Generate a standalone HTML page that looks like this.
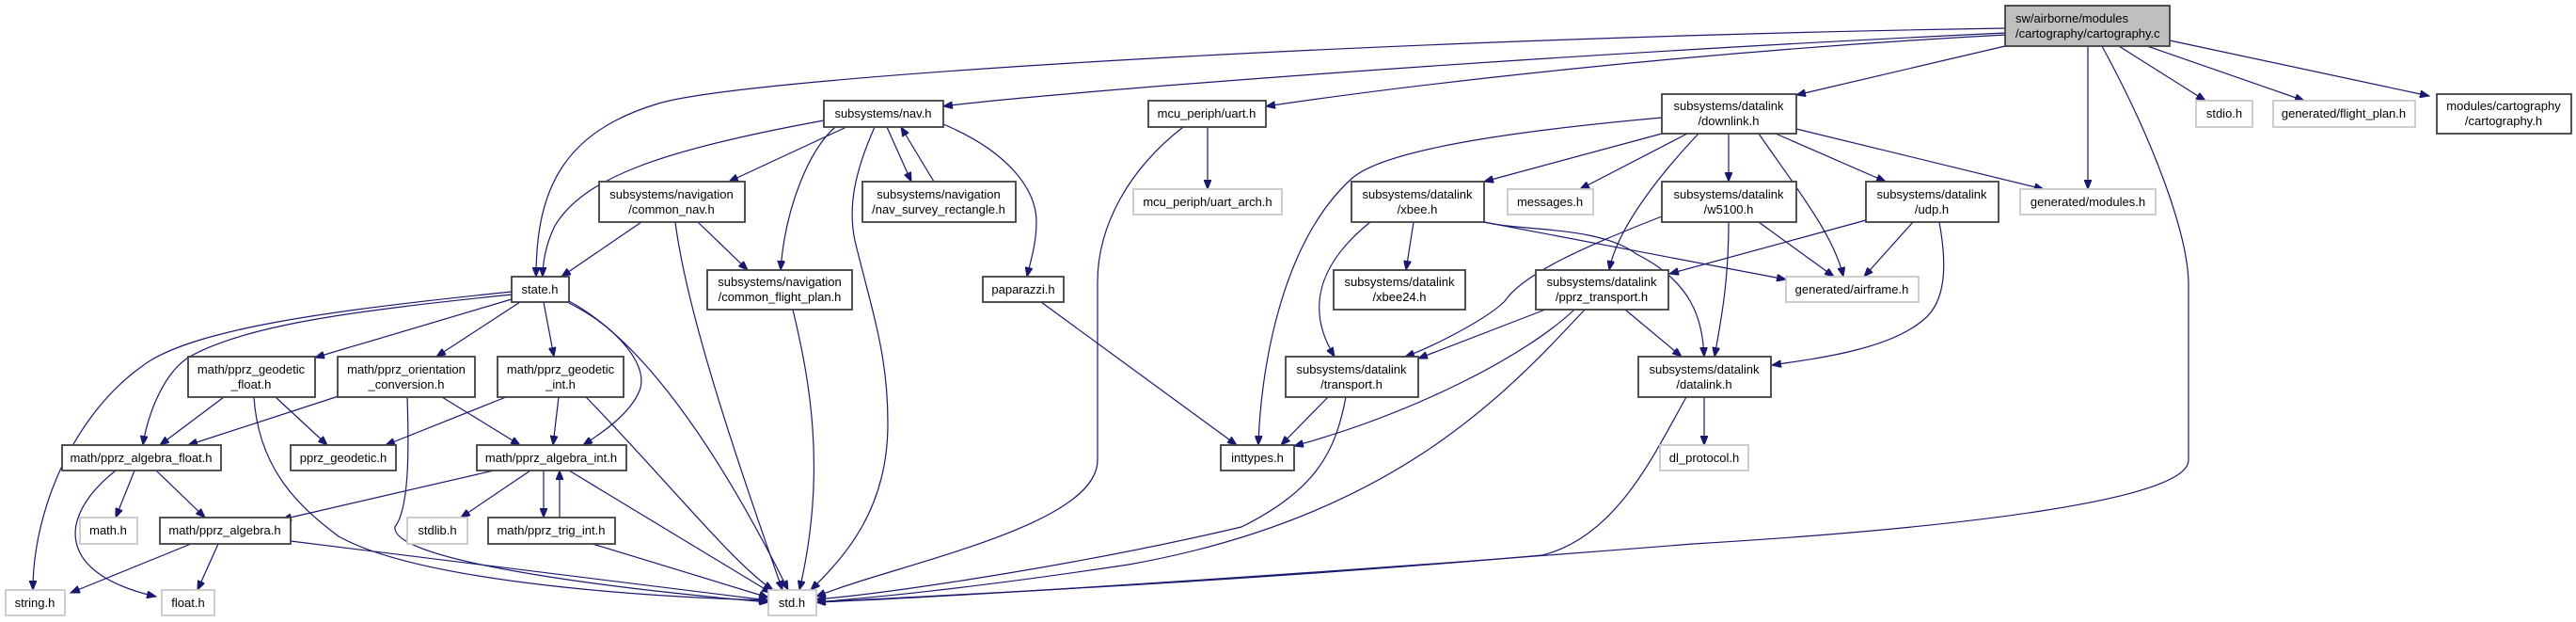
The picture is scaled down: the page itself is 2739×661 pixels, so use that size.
<!DOCTYPE html>
<html><head><meta charset="utf-8"><style>
html,body{margin:0;padding:0;background:#fff;}
svg{display:block;}
text{font-family:"Liberation Sans",Arial,sans-serif;font-size:13px;fill:#000;text-anchor:middle;}
.n{fill:#fff;stroke:#404040;stroke-width:1.8;}
.g{fill:#fff;stroke:#c8c8c8;stroke-width:1.8;}
.r{fill:#bfbfbf;stroke:#404040;stroke-width:1.8;}
path{fill:none;stroke:#191970;stroke-width:1.2;}
</style></head><body>
<svg width="2739" height="661" viewBox="0 0 2739 661" xmlns="http://www.w3.org/2000/svg">
<defs><marker id="a" markerWidth="11" markerHeight="8" refX="10" refY="4" orient="auto" markerUnits="userSpaceOnUse"><path d="M0,0 L10,4 L0,8 Z" style="fill:#191970;stroke:#191970;stroke-width:1"/></marker></defs>
<g marker-end="url(#a)">
<!-- root -->
<path d="M2132,30 C1500,40 800,80 700,110 C600,140 570,200 570,294"/>
<path d="M2132,35 C1600,60 1100,100 1003,113"/>
<path d="M2132,37 C1800,55 1500,90 1346,113"/>
<path d="M2132,49 L1910,101"/>
<path d="M2220,49 L2220,201"/>
<path d="M2253,49 L2345,107"/>
<path d="M2283,49 L2450,107"/>
<path d="M2307,43 L2583,102"/>
<path d="M2235,49 C2290,150 2327,250 2327,303 L2327,489 C2327,530 2100,560 1800,578 C1400,610 1000,635 868,640"/>
<!-- nav -->
<path d="M876,128 C700,160 620,190 590,240 C580,260 577,280 577,294"/>
<path d="M900,135 L775,193"/>
<path d="M888,135 C860,160 835,220 830,287"/>
<path d="M930,135 C910,180 900,220 910,260 C930,340 944,380 944,450 C944,540 900,590 862,627"/>
<path d="M943,135 L969,193"/>
<path d="M993,193 L958,135"/>
<path d="M1003,132 C1070,160 1102,200 1102,236 C1102,260 1095,280 1092,294"/>
<!-- uart -->
<path d="M1284,135 L1284,201"/>
<path d="M1258,135 C1200,180 1167,240 1167,300 L1167,489 C1167,560 950,600 868,634"/>
<!-- downlink -->
<path d="M1767,125 C1600,140 1470,160 1437,190 C1360,260 1340,400 1338,473"/>
<path d="M1767,142 L1578,193"/>
<path d="M1794,142 L1680,201"/>
<path d="M1806,142 C1770,180 1720,240 1711,287"/>
<path d="M1838,142 L1838,193"/>
<path d="M1870,142 C1910,200 1950,250 1960,294"/>
<path d="M1888,142 L2005,193"/>
<path d="M1910,137 L2173,201"/>
<!-- xbee -->
<path d="M1457,236 C1390,290 1395,340 1419,379"/>
<path d="M1503,236 L1495,287"/>
<path d="M1578,236 L1899,297"/>
<path d="M1578,236 C1620,246 1700,240 1740,270 C1800,300 1810,340 1812,379"/>
<!-- w5100 -->
<path d="M1767,230 C1690,260 1620,290 1600,320 C1580,340 1520,370 1494,379"/>
<path d="M1838,236 C1838,300 1830,340 1823,379"/>
<path d="M1870,236 L1950,294"/>
<!-- udp -->
<path d="M1984,234 L1775,291"/>
<path d="M2034,236 L1982,294"/>
<path d="M2062,236 C2070,280 2070,320 2045,340 C2010,370 1940,380 1884,388"/>
<!-- pprz_transport -->
<path d="M1643,329 L1508,381"/>
<path d="M1674,329 C1620,380 1500,440 1376,474"/>
<path d="M1685,329 C1600,420 1480,550 1200,600 C1000,630 900,637 868,640"/>
<path d="M1728,329 L1788,379"/>
<!-- transport -->
<path d="M1412,422 L1362,473"/>
<path d="M1431,422 C1420,480 1400,520 1320,560 C1150,600 950,630 868,637"/>
<!-- datalink -->
<path d="M1812,422 L1812,473"/>
<path d="M1793,422 C1760,480 1720,570 1640,590 C1300,620 950,635 868,640"/>
<!-- paparazzi -->
<path d="M1107,321 L1315,473"/>
<!-- common_nav -->
<path d="M682,236 L597,294"/>
<path d="M742,236 L795,287"/>
<path d="M718,236 C730,330 780,480 832,627"/>
<!-- cfp -->
<path d="M843,329 C860,400 880,500 850,627"/>
<!-- state -->
<path d="M544,310 C350,330 200,350 150,390 C80,440 35,540 35,627"/>
<path d="M544,313 C380,330 260,345 200,380 C170,400 155,450 152,473"/>
<path d="M544,318 L335,380"/>
<path d="M553,321 L464,379"/>
<path d="M578,321 L589,379"/>
<path d="M605,322 C660,350 690,390 680,415 C670,440 640,460 620,473"/>
<path d="M605,320 C680,360 760,470 838,627"/>
<!-- geo_float -->
<path d="M238,422 L170,473"/>
<path d="M293,422 L348,473"/>
<path d="M270,422 C275,500 320,540 360,570 C450,620 700,635 817,638"/>
<!-- orient -->
<path d="M360,421 L200,473"/>
<path d="M470,422 L553,473"/>
<path d="M433,422 C435,480 435,540 420,560 C415,600 700,630 817,640"/>
<!-- geo_int -->
<path d="M538,422 L410,473"/>
<path d="M594,422 L588,473"/>
<path d="M623,422 C700,500 780,600 822,627"/>
<!-- alg_float -->
<path d="M143,500 L123,550"/>
<path d="M166,500 L218,550"/>
<path d="M123,500 C60,550 60,610 166,634"/>
<!-- pprz_algebra -->
<path d="M203,578 L75,630"/>
<path d="M232,578 L210,627"/>
<path d="M309,575 L817,638"/>
<!-- alg_int -->
<path d="M525,500 L300,552"/>
<path d="M564,500 L490,550"/>
<path d="M578,500 L578,550"/>
<path d="M595,550 L595,500"/>
<path d="M605,500 L820,630"/>
<path d="M630,578 L817,635"/>
</g>
<!-- nodes -->
<rect class="r" x="2132" y="6" width="175" height="43"/><text x="2219" y="24" style="text-anchor:start" dx="-76">sw/airborne/modules</text><text x="2219" y="40" style="text-anchor:start" dx="-76">/cartography/cartography.c</text>
<rect class="n" x="876" y="107" width="127" height="28"/><text x="939" y="125">subsystems/nav.h</text>
<rect class="n" x="1221" y="107" width="125" height="28"/><text x="1283" y="125">mcu_periph/uart.h</text>
<rect class="n" x="1767" y="100" width="143" height="42"/><text x="1838" y="117">subsystems/datalink</text><text x="1838" y="133">/downlink.h</text>
<rect class="g" x="2335" y="107" width="60" height="28"/><text x="2365" y="125">stdio.h</text>
<rect class="g" x="2417" y="107" width="151" height="28"/><text x="2492" y="125">generated/flight_plan.h</text>
<rect class="n" x="2591" y="100" width="143" height="42"/><text x="2662" y="117">modules/cartography</text><text x="2662" y="133">/cartography.h</text>
<rect class="n" x="637" y="193" width="155" height="43"/><text x="714" y="211">subsystems/navigation</text><text x="714" y="227">/common_nav.h</text>
<rect class="n" x="917" y="193" width="163" height="43"/><text x="998" y="211">subsystems/navigation</text><text x="998" y="227">/nav_survey_rectangle.h</text>
<rect class="g" x="1205" y="201" width="158" height="27"/><text x="1284" y="219">mcu_periph/uart_arch.h</text>
<rect class="n" x="1437" y="193" width="141" height="43"/><text x="1507" y="211">subsystems/datalink</text><text x="1507" y="227">/xbee.h</text>
<rect class="g" x="1603" y="201" width="91" height="27"/><text x="1648" y="219">messages.h</text>
<rect class="n" x="1767" y="193" width="143" height="43"/><text x="1838" y="211">subsystems/datalink</text><text x="1838" y="227">/w5100.h</text>
<rect class="n" x="1984" y="193" width="141" height="43"/><text x="2054" y="211">subsystems/datalink</text><text x="2054" y="227">/udp.h</text>
<rect class="g" x="2148" y="201" width="144" height="27"/><text x="2220" y="219">generated/modules.h</text>
<rect class="n" x="544" y="294" width="61" height="27"/><text x="574" y="312">state.h</text>
<rect class="n" x="752" y="287" width="154" height="42"/><text x="829" y="304">subsystems/navigation</text><text x="829" y="320">/common_flight_plan.h</text>
<rect class="n" x="1045" y="294" width="86" height="27"/><text x="1088" y="312">paparazzi.h</text>
<rect class="n" x="1418" y="287" width="140" height="42"/><text x="1488" y="304">subsystems/datalink</text><text x="1488" y="320">/xbee24.h</text>
<rect class="n" x="1633" y="287" width="141" height="42"/><text x="1703" y="304">subsystems/datalink</text><text x="1703" y="320">/pprz_transport.h</text>
<rect class="g" x="1899" y="294" width="141" height="27"/><text x="1969" y="312">generated/airframe.h</text>
<rect class="n" x="200" y="379" width="135" height="43"/><text x="267" y="397">math/pprz_geodetic</text><text x="267" y="413">_float.h</text>
<rect class="n" x="359" y="379" width="146" height="43"/><text x="432" y="397">math/pprz_orientation</text><text x="432" y="413">_conversion.h</text>
<rect class="n" x="529" y="379" width="134" height="43"/><text x="596" y="397">math/pprz_geodetic</text><text x="596" y="413">_int.h</text>
<rect class="n" x="1367" y="379" width="141" height="43"/><text x="1437" y="397">subsystems/datalink</text><text x="1437" y="413">/transport.h</text>
<rect class="n" x="1742" y="379" width="141" height="43"/><text x="1812" y="397">subsystems/datalink</text><text x="1812" y="413">/datalink.h</text>
<rect class="n" x="66" y="473" width="169" height="27"/><text x="150" y="491">math/pprz_algebra_float.h</text>
<rect class="n" x="309" y="473" width="112" height="27"/><text x="365" y="491">pprz_geodetic.h</text>
<rect class="n" x="507" y="473" width="159" height="27"/><text x="586" y="491">math/pprz_algebra_int.h</text>
<rect class="n" x="1298" y="473" width="78" height="27"/><text x="1337" y="491">inttypes.h</text>
<rect class="g" x="1765" y="473" width="94" height="27"/><text x="1812" y="491">dl_protocol.h</text>
<rect class="g" x="85" y="550" width="61" height="28"/><text x="115" y="568">math.h</text>
<rect class="n" x="170" y="550" width="139" height="28"/><text x="239" y="568">math/pprz_algebra.h</text>
<rect class="g" x="433" y="550" width="64" height="28"/><text x="465" y="568">stdlib.h</text>
<rect class="n" x="519" y="550" width="135" height="28"/><text x="586" y="568">math/pprz_trig_int.h</text>
<rect class="g" x="6" y="627" width="63" height="27"/><text x="37" y="645">string.h</text>
<rect class="g" x="172" y="627" width="56" height="27"/><text x="200" y="645">float.h</text>
<rect class="g" x="817" y="627" width="51" height="27"/><text x="842" y="645">std.h</text>
</svg>
</body></html>
